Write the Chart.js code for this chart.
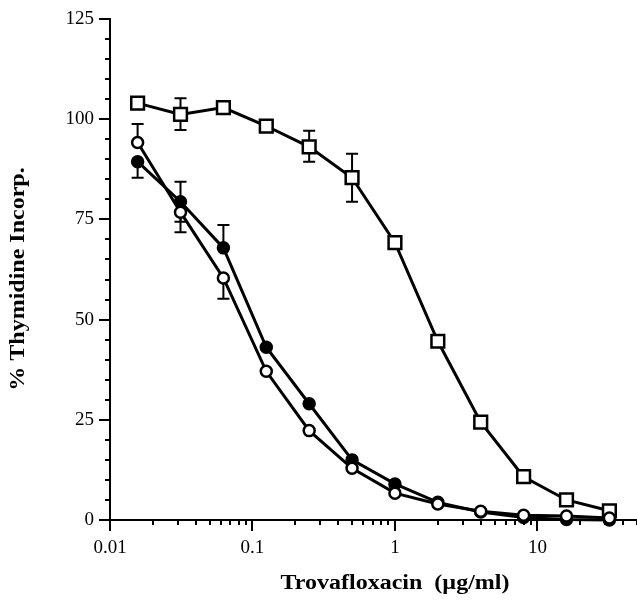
<!DOCTYPE html>
<html>
<head>
<meta charset="utf-8">
<script src="https://cdn.jsdelivr.net/npm/chart.js@4.4.1/dist/chart.umd.min.js"></script>
<style>
  html, body { margin: 0; padding: 0; background: #fff; }
</style>
</head>
<body>
<canvas id="myChart" width="637" height="609"></canvas>
<script>
// trovafloxacin doses (ug/ml), two-fold dilutions
const doses = [0.015625, 0.03125, 0.0625, 0.125, 0.25, 0.5, 1, 2, 4, 8, 16, 32]

// % thymidine incorporation
const squareVals = [104, 101.2, 102.9, 98.3, 93.1, 85.4, 69.2, 44.6, 24.4, 10.8, 5, 2.3]
const filledVals = [89.4, 79.4, 67.9, 43.1, 29, 15, 9, 4.4, 2, 0.6, 0.1, 0]
const openVals = [94.2, 76.8, 60.4, 37.1, 22.3, 12.9, 6.7, 4, 2.2, 1.2, 1, 0.5]

// error bar ends (null = none drawn)
const squareHigh = [null, 105.2, null, null, 97.1, 91.4, null, null, null, null, null, null]
const squareLow = [null, 97.3, null, null, 89.4, 79.4, null, null, null, null, null, null]
const filledHigh = [null, 84.4, 73.6, null, null, null, null, null, null, null, null, null]
const filledLow = [85.4, 74.4, null, null, null, null, null, null, null, null, null, null]
const openHigh = [98.8, null, null, null, null, null, null, null, null, null, null, null]
const openLow = [null, 71.8, 55.2, null, null, null, null, null, null, null, null, null]

const xTickLabels = ['0.01', '0.1', '1', '10']
const yTickLabels = [0, 25, 50, 75, 100, 125]

const xTitle = 'Trovafloxacin  (\u00b5g/ml)'
const yTitle = '% Thymidine Incorp.'

function pts(vals) {
  return doses.map((d, i) => ({x: d, y: vals[i]}))
}

function isDecade(v) {
  const l = Math.log10(v)
  return Math.abs(l - Math.round(l)) < 1e-9
}

const errorBars = {
  id: 'errorBars',
  beforeDatasetsDraw(chart) {
    const ctx = chart.ctx
    const xs = chart.scales.x, ys = chart.scales.y
    ctx.save()
    ctx.strokeStyle = '#000'
    ctx.lineWidth = 2
    chart.data.datasets.forEach(ds => {
      const ends = [ds.errHigh, ds.errLow]
      ends.forEach(arr => {
        arr.forEach((e, i) => {
          if (e == null) return
          const px = xs.getPixelForValue(doses[i])
          const py = ys.getPixelForValue(ds.data[i].y)
          const pe = ys.getPixelForValue(e)
          ctx.beginPath()
          ctx.moveTo(px, py)
          ctx.lineTo(px, pe)
          ctx.moveTo(px - 6, pe)
          ctx.lineTo(px + 6, pe)
          ctx.stroke()
        })
      })
    })
    ctx.restore()
  }
}

const axisDecor = {
  id: 'axisDecor',
  afterDraw(chart) {
    const ctx = chart.ctx
    const xs = chart.scales.x, ys = chart.scales.y
    const area = chart.chartArea
    ctx.save()
    ctx.strokeStyle = '#000'
    ctx.lineWidth = 2
    ctx.beginPath()
    xs.ticks.forEach(t => {
      const px = Math.round(xs.getPixelForValue(t.value))
      const len = isDecade(t.value) ? 11 : 5
      ctx.moveTo(px, area.bottom)
      ctx.lineTo(px, area.bottom + len)
    })
    ys.ticks.forEach(t => {
      const py = Math.round(ys.getPixelForValue(t.value))
      const len = t.value % 25 === 0 ? 11 : 5
      ctx.moveTo(area.left, py)
      ctx.lineTo(area.left - len, py)
    })
    ctx.stroke()

    // axis titles
    ctx.fillStyle = '#000'
    ctx.font = 'bold 20px "Liberation Serif"'
    ctx.textAlign = 'center'
    ctx.textBaseline = 'middle'
    ctx.save()
    ctx.translate(395, 584)
    ctx.scale(1.2, 1)
    ctx.fillText(xTitle, 0, 0)
    ctx.restore()
    ctx.save()
    ctx.translate(19, 279)
    ctx.rotate(-Math.PI / 2)
    ctx.scale(1.2, 1)
    ctx.fillText(yTitle, 0, 0)
    ctx.restore()
    ctx.restore()
  }
}

const tickFont = {family: 'Liberation Serif', size: 19}

const config = {
  type: 'line',
  data: {
    datasets: [
      {
        label: 'open circles',
        data: pts(openVals),
        errHigh: openHigh,
        errLow: openLow,
        borderColor: '#000',
        borderWidth: 3,
        pointStyle: 'circle',
        pointRadius: 5.5,
        pointBorderWidth: 2.5,
        pointBackgroundColor: '#fff',
        pointBorderColor: '#000',
        clip: false
      },
      {
        label: 'filled circles',
        data: pts(filledVals),
        errHigh: filledHigh,
        errLow: filledLow,
        borderColor: '#000',
        borderWidth: 3,
        pointStyle: 'circle',
        pointRadius: 5.5,
        pointBorderWidth: 2.5,
        pointBackgroundColor: '#000',
        pointBorderColor: '#000',
        clip: false
      },
      {
        label: 'open squares',
        data: pts(squareVals),
        errHigh: squareHigh,
        errLow: squareLow,
        borderColor: '#000',
        borderWidth: 3,
        pointStyle: 'rect',
        pointRadius: 9,
        pointBorderWidth: 2.5,
        pointBackgroundColor: '#fff',
        pointBorderColor: '#000',
        clip: false
      }
    ]
  },
  options: {
    responsive: false,
    animation: false,
    layout: {autoPadding: false, padding: {top: 19, right: 0, left: 0, bottom: 0}},
    plugins: {
      legend: {display: false},
      tooltip: {enabled: false}
    },
    scales: {
      x: {
        type: 'logarithmic',
        min: 0.01,
        max: 50,
        afterBuildTicks: (scale) => {
          const t = []
          for (let e = -2; e <= 1; e++) {
            for (let m = 1; m <= 9; m++) {
              const v = Number((m * Math.pow(10, e)).toPrecision(3))
              if (v <= 50) t.push({value: v, major: m === 1})
            }
          }
          t.push({value: 50, major: false})
          scale.ticks = t
        },
        afterFit: (scale) => {
          scale.height = 89
          scale.paddingRight = 0
          scale.paddingLeft = 0
        },
        border: {display: true, color: '#000', width: 2},
        grid: {display: true, drawOnChartArea: false, drawTicks: true, tickLength: 11, tickColor: 'rgba(0,0,0,0)'},
        ticks: {
          autoSkip: false,
          maxRotation: 0,
          padding: 6,
          color: '#000',
          font: tickFont,
          callback: function(v) {
            if (!isDecade(v)) return ''
            const lbl = xTickLabels.find(s => Math.abs(Number(s) - v) < 1e-9)
            return lbl || ''
          }
        }
      },
      y: {
        min: 0,
        max: 125,
        afterFit: (scale) => { scale.width = 110 },
        border: {display: true, color: '#000', width: 2},
        grid: {display: true, drawOnChartArea: false, drawTicks: true, tickLength: 11, tickColor: 'rgba(0,0,0,0)'},
        ticks: {
          stepSize: 5,
          autoSkip: false,
          padding: 5,
          color: '#000',
          font: tickFont,
          callback: function(v) {
            return yTickLabels.includes(v) ? String(v) : ''
          }
        }
      }
    }
  },
  plugins: [errorBars, axisDecor]
}

const myChart = new Chart(document.getElementById('myChart'), config)
</script>
</body>
</html>
